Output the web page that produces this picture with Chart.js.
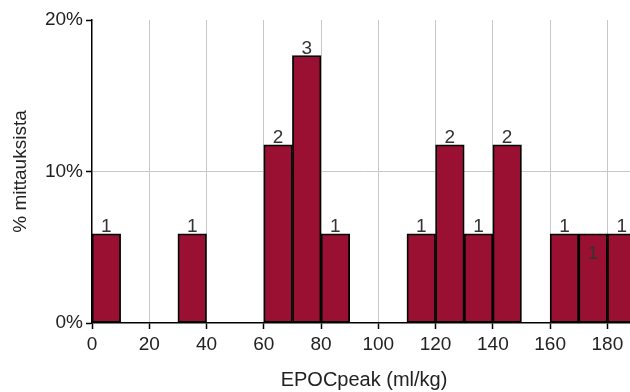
<!DOCTYPE html>
<html>
<head>
<meta charset="utf-8">
<script src="https://cdn.jsdelivr.net/npm/chart.js@4"></script>
<style>
  html, body { margin: 0; padding: 0; background: #fff; overflow: hidden; }
  #wrap { width: 630px; height: 392px; overflow: hidden; }
</style>
</head>
<body>
<div id="wrap"><canvas id="chart" width="640" height="392"></canvas></div>
<script>
// histogram bins (ml/kg), 10 wide
const binStarts = [0, 10, 20, 30, 40, 50, 60, 70, 80, 90, 100, 110, 120, 130, 140, 150, 160, 170, 180];
const counts    = [1, 0,  0,  1,  0,  0,  2,  3,  1,  0,  0,   1,   2,   1,   2,   0,   1,   1,   1];
const binWidth = 10;
const xTicks = [0, 20, 40, 60, 80, 100, 120, 140, 160, 180];
const yTicks = [0, 10, 20];
// bins whose count label sits inside the bar in the original
const insideLabelBins = [170];

const total = counts.reduce((a, b) => a + b, 0);
const points = binStarts.map((s, i) => ({
  x: s + binWidth / 2,
  y: counts[i] > 0 ? counts[i] / total * 100 : null
}));

const font = { family: '"Liberation Sans", Arial, sans-serif', size: 19 };
const textColor = '#222';

const countLabels = {
  id: 'countLabels',
  afterDatasetsDraw(chart) {
    const ctx = chart.ctx;
    const meta = chart.getDatasetMeta(0);
    ctx.save();
    ctx.font = `${font.size}px ${font.family}`;
    ctx.fillStyle = '#333';
    ctx.textAlign = 'center';
    ctx.textBaseline = 'alphabetic';
    meta.data.forEach((bar, i) => {
      if (!counts[i]) return;
      const inside = insideLabelBins.includes(binStarts[i]);
      const y = inside ? bar.y + 25 : bar.y - 2;
      ctx.fillText(String(counts[i]), bar.x, y);
    });
    ctx.restore();
  }
};

new Chart(document.getElementById('chart'), {
  type: 'bar',
  data: {
    datasets: [{
      data: points,
      backgroundColor: '#9a1032',
      borderColor: '#000',
      borderWidth: 1.8,
      borderSkipped: false,
      barPercentage: 1,
      categoryPercentage: 1
    }]
  },
  options: {
    responsive: false,
    animation: false,
    layout: { padding: { top: 20, right: 4, bottom: 0, left: 0 } },
    plugins: { legend: { display: false }, tooltip: { enabled: false } },
    scales: {
      x: {
        type: 'linear',
        min: 0,
        max: 190,
        offset: false,
        afterFit(scale) { scale.height = 69; },
        afterBuildTicks(scale) { scale.ticks = xTicks.map(v => ({ value: v })); },
        grid: {
          offset: false,
          color: (c) => c.tick && c.tick.value === 0 ? 'transparent' : '#c8c8c8',
          lineWidth: 1,
          tickColor: '#000',
          tickLength: 6,
          tickWidth: 1.5
        },
        border: { color: '#000', width: 1.5 },
        ticks: { font: font, color: textColor, padding: 4, maxRotation: 0, includeBounds: false },
        title: {
          display: true,
          text: 'EPOCpeak (ml/kg)',
          font: { family: font.family, size: 20 },
          color: textColor,
          padding: { top: 0, bottom: 0 }
        }
      },
      y: {
        min: 0,
        max: 20,
        afterFit(scale) { scale.width = 92; },
        afterBuildTicks(scale) { scale.ticks = yTicks.map(v => ({ value: v })); },
        grid: {
          color: (c) => c.tick && c.tick.value === 10 ? '#c8c8c8' : 'transparent',
          lineWidth: 1,
          tickColor: '#000',
          tickLength: 6,
          tickWidth: 1.5
        },
        border: { color: '#000', width: 1.5 },
        ticks: {
          font: font,
          color: textColor,
          padding: 3,
          callback: (v) => v + '%'
        },
        title: {
          display: true,
          text: '% mittauksista',
          font: { family: font.family, size: 19 },
          color: textColor,
          padding: { top: 9, bottom: 0 }
        }
      }
    }
  },
  plugins: [countLabels]
});
</script>
</body>
</html>
